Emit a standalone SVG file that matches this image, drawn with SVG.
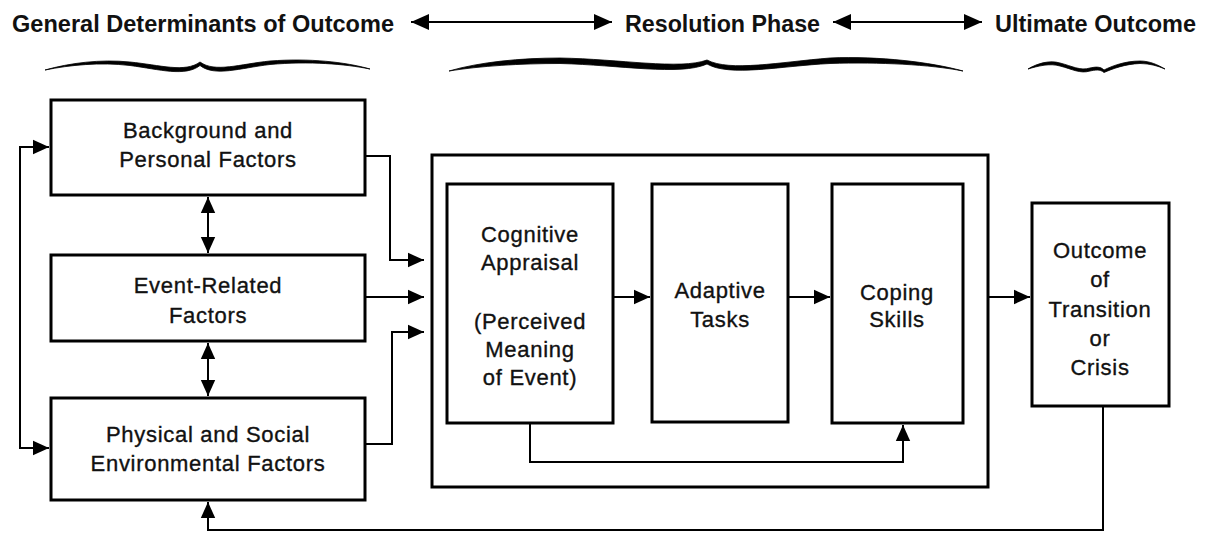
<svg xmlns="http://www.w3.org/2000/svg" width="1205" height="535" viewBox="0 0 1205 535">
<defs>
<marker id="ah" viewBox="0 0 10 10" refX="10" refY="5" markerWidth="16" markerHeight="16" orient="auto-start-reverse" markerUnits="userSpaceOnUse">
<path d="M0,0.5 L10,5 L0,9.5 z" fill="#000"/>
</marker>
<marker id="ahh" viewBox="0 0 10 10" refX="10" refY="5" markerWidth="18" markerHeight="19" orient="auto-start-reverse" markerUnits="userSpaceOnUse">
<path d="M0,0.5 L10,5 L0,9.5 z" fill="#000"/>
</marker>
</defs>
<style>
.box{fill:#fff;stroke:#000;stroke-width:3}
.t{font-family:"Liberation Sans",Arial,sans-serif;font-size:22px;letter-spacing:0.7px;fill:#111;stroke:#111;stroke-width:0.35;text-anchor:middle}
.h{font-family:"Liberation Sans",Arial,sans-serif;font-size:24px;font-weight:bold;fill:#111}
.c{fill:none;stroke:#000;stroke-width:2}
.ca{fill:none;stroke:#000;stroke-width:2;marker-end:url(#ah)}
.cb{fill:none;stroke:#000;stroke-width:2;marker-start:url(#ah);marker-end:url(#ah)}
.hb{fill:none;stroke:#000;stroke-width:2.2;marker-start:url(#ahh);marker-end:url(#ahh)}
.brace{fill:#000;stroke:#000;stroke-width:0.8;stroke-linejoin:round}
</style>
<rect width="1205" height="535" fill="#fff"/>

<g id="header">
<text class="h" x="12" y="32" textLength="382" lengthAdjust="spacingAndGlyphs">General Determinants of Outcome</text>
<text class="h" x="625" y="32" textLength="195" lengthAdjust="spacingAndGlyphs">Resolution Phase</text>
<text class="h" x="995" y="32" textLength="201" lengthAdjust="spacingAndGlyphs">Ultimate Outcome</text>
<path class="hb" d="M411,22 H612"/>
<path class="hb" d="M833,22 H982"/>
<path class="brace" d="M45,70 C70,63 100,59 130,62 C160,65 185,73 200,62 C215,73 240,64 270,61 C310,58 345,62 370,69 C345,64 310,61 270,64.5 C240,68 215,77 200,65.5 C185,77 160,69.5 130,65.5 C100,62 70,65 45,70 z"/>
<path class="brace" d="M449,71 C480,62 520,58 560,58 C620,59 680,70 707,60 C730,72 780,62 830,58 C880,56 930,62 963,71 C930,64.5 880,62 830,63.5 C780,66 730,77 707,64 C680,76 620,65 560,63.5 C520,63.5 480,66 449,71 z"/>
<path class="brace" d="M1028,69 C1038,63 1050,60 1060,63 C1072,66 1080,71 1090,68 C1095,67 1100,66 1104,70 C1112,66 1125,61 1140,61 C1150,61 1158,65 1165,69 C1158,66 1150,63.5 1140,63.5 C1125,64 1112,69 1104,72.5 C1100,69 1095,70 1090,71 C1080,74 1072,69 1060,66 C1050,63 1038,66 1028,69 z"/>
</g>

<g id="resolution-phase">
<rect class="box" x="432" y="155" width="556" height="332"/>
</g>

<g id="background">
<rect class="box" x="51" y="100" width="314" height="95"/>
<text class="t" x="208" y="138">Background and</text>
<text class="t" x="208" y="167">Personal Factors</text>
</g>

<g id="event-related">
<rect class="box" x="51" y="255" width="314" height="86"/>
<text class="t" x="208" y="293">Event-Related</text>
<text class="t" x="208" y="323">Factors</text>
</g>

<g id="physical-social">
<rect class="box" x="51" y="398" width="314" height="102"/>
<text class="t" x="208" y="442">Physical and Social</text>
<text class="t" x="208" y="471">Environmental Factors</text>
</g>

<g id="cognitive">
<rect class="box" x="447" y="184" width="166" height="239"/>
<text class="t" x="530" y="242">Cognitive</text>
<text class="t" x="530" y="270">Appraisal</text>
<text class="t" x="530" y="329">(Perceived</text>
<text class="t" x="530" y="357">Meaning</text>
<text class="t" x="530" y="385">of Event)</text>
</g>

<g id="adaptive">
<rect class="box" x="652" y="184" width="136" height="238"/>
<text class="t" x="720" y="298">Adaptive</text>
<text class="t" x="720" y="327">Tasks</text>
</g>

<g id="coping">
<rect class="box" x="832" y="184" width="131" height="239"/>
<text class="t" x="897" y="300">Coping</text>
<text class="t" x="897" y="327">Skills</text>
</g>

<g id="outcome">
<rect class="box" x="1032" y="203" width="137" height="203"/>
<text class="t" x="1100" y="258">Outcome</text>
<text class="t" x="1100" y="287">of</text>
<text class="t" x="1100" y="317">Transition</text>
<text class="t" x="1100" y="346">or</text>
<text class="t" x="1100" y="375">Crisis</text>
</g>

<g id="connectors">
<path class="cb" d="M49,147 H20 V448 H49"/>
<path class="cb" d="M208,197 V253"/>
<path class="cb" d="M208,343 V396"/>
<path class="ca" d="M366,156 H390 V260 H424"/>
<path class="ca" d="M366,297 H424"/>
<path class="ca" d="M366,444 H392 V332 H424"/>
<path class="ca" d="M614,297 H650"/>
<path class="ca" d="M789,297 H830"/>
<path class="ca" d="M989,297 H1030"/>
<path class="ca" d="M530,424 V462 H903 V425"/>
<path class="ca" d="M1103,407 V530 H208 V502"/>
</g>
</svg>
